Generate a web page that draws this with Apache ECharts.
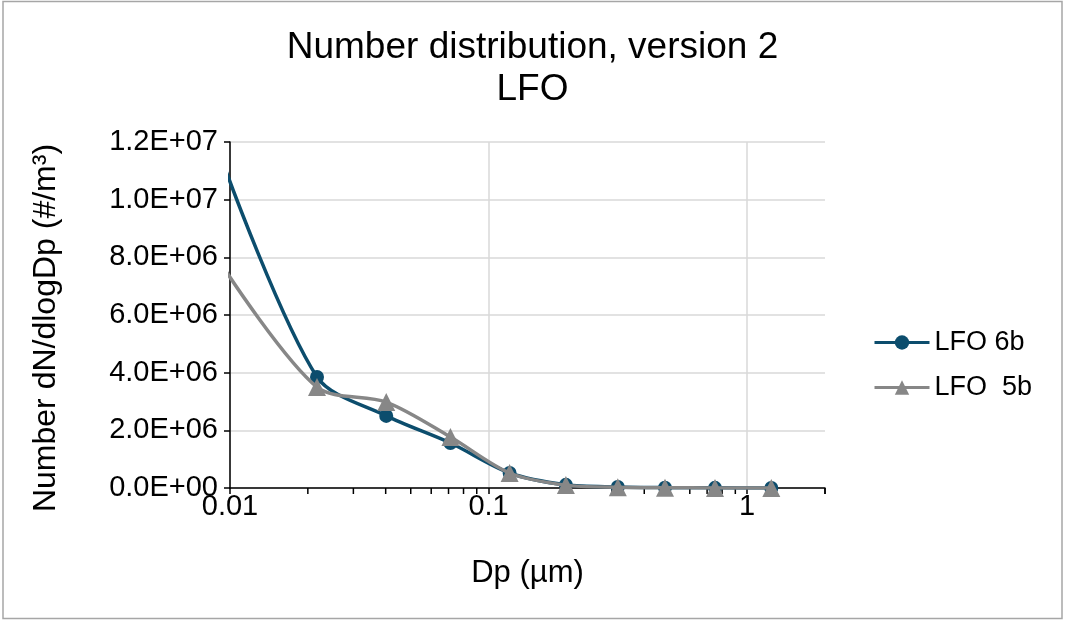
<!DOCTYPE html>
<html>
<head>
<meta charset="utf-8">
<script src="https://cdn.jsdelivr.net/npm/echarts@6/dist/echarts.min.js"></script>
<style>
  html, body { margin: 0; padding: 0; background: #fff; }
  #chart { width: 1065px; height: 621px; }
</style>
</head>
<body>
<div id="chart"></div>
<script>
// ---- data ----
const titleLines = ['Number distribution, version 2', 'LFO'];
const xAxisName = 'Dp (µm)';
const yAxisName = 'Number dN/dlogDp (#/m³)';
const dp = [0.0096, 0.0217, 0.0402, 0.0712, 0.1206, 0.199, 0.316, 0.481, 0.751, 1.24];
const lfo6b = [11050000, 3850000, 2500000, 1560000, 520000, 110000, 35000, 12000, 5000, 2000];
const lfo5b = [7550000, 3500000, 2980000, 1770000, 520000, 100000, 30000, 10000, 4000, 1500];
const seriesNames = ['LFO 6b', 'LFO  5b'];
const minorTickValues = [0.02,0.03,0.04,0.05,0.06,0.07,0.08,0.09,0.2,0.3,0.4,0.5,0.6,0.7,0.8,0.9,2];

const FONT = '"Liberation Sans", Arial, sans-serif';
const C6 = '#0c4d6d';
const C5 = '#878787';

function fmtExp(v) {
  const parts = Number(v).toExponential(1).split('e');
  let e = parseInt(parts[1], 10);
  const sign = e < 0 ? '-' : '+';
  e = Math.abs(e);
  return parts[0] + 'E' + sign + (e < 10 ? '0' + e : String(e));
}

const chart = echarts.init(document.getElementById('chart'), null, { renderer: 'canvas' });
const option = {
  animation: false,
  backgroundColor: '#fff',
  textStyle: { fontFamily: FONT },
  graphic: [{
    type: 'rect', silent: true, z: -10,
    shape: { x: 3, y: 1.5, width: 1059, height: 617 },
    style: { fill: 'none', stroke: '#a6a6a6', lineWidth: 1.5 }
  }],
  title: {
    text: titleLines.join('\n'),
    left: 'center', top: 22,
    textStyle: { fontFamily: FONT, fontSize: 37, fontWeight: 'normal', color: '#000', lineHeight: 42 }
  },
  legend: {
    orient: 'vertical', left: 873, top: 329, padding: 0,
    itemWidth: 55, itemHeight: 18, itemGap: 18,
    textStyle: { fontFamily: FONT, fontSize: 27, color: '#000' },
    lineStyle: { width: 3 },
    data: seriesNames
  },
  grid: { left: 230, right: 240, top: 142, bottom: 133, containLabel: false },
  xAxis: {
    type: 'log', logBase: 10, min: 0.01, max: 2,
    name: xAxisName, nameLocation: 'middle', nameGap: 70,
    nameTextStyle: { fontFamily: FONT, fontSize: 31, color: '#000' },
    axisLine: { show: true, onZero: false, lineStyle: { color: '#000', width: 1.5 } },
    axisTick: { show: true, inside: false, length: 6, lineStyle: { color: '#000', width: 1.5 } },
    axisLabel: {
      fontFamily: FONT, fontSize: 29, color: '#000', margin: 4,
      formatter: function (v) {
        const l = Math.log10(v);
        if (Math.abs(l - Math.round(l)) < 1e-6) return String(+Number(v).toPrecision(6));
        return '';
      }
    },
    splitLine: { show: true, showMaxLine: false, lineStyle: { color: '#d9d9d9', width: 1.5 } }
  },
  yAxis: {
    type: 'value', min: 0, max: 12000000, interval: 2000000,
    name: yAxisName, nameLocation: 'middle', nameGap: 168, nameRotate: 90,
    nameTextStyle: { fontFamily: FONT, fontSize: 32, color: '#000', padding: [0, 26, 0, 0] },
    axisLine: { show: true, lineStyle: { color: '#000', width: 1.5 } },
    axisTick: { show: true, inside: false, length: 6, lineStyle: { color: '#000', width: 1.5 } },
    axisLabel: { fontFamily: FONT, fontSize: 29, color: '#000', margin: 12, formatter: fmtExp },
    splitLine: { show: true, lineStyle: { color: '#d9d9d9', width: 1.5 } }
  },
  series: [
    {
      name: seriesNames[0], type: 'line', smooth: 0.3, clip: true,
      data: dp.map((x, i) => [x, lfo6b[i]]),
      symbol: 'circle', symbolSize: 14,
      lineStyle: { color: C6, width: 3.5 }, itemStyle: { color: C6 }, z: 3
    },
    {
      name: seriesNames[1], type: 'line', smooth: 0.3, clip: true,
      data: dp.map((x, i) => [x, lfo5b[i]]),
      symbol: 'triangle', symbolSize: 18,
      lineStyle: { color: C5, width: 3.5 }, itemStyle: { color: C5 }, z: 4
    },
    {
      type: 'custom', silent: true, clip: false, legendHoverLink: false,
      data: minorTickValues.map(v => [v, 0]),
      renderItem: function (params, api) {
        const p = api.coord([api.value(0), 0]);
        return {
          type: 'line',
          shape: { x1: p[0], y1: p[1], x2: p[0], y2: p[1] + 6 },
          style: { stroke: '#000', lineWidth: 1.5 }
        };
      },
      z: 1
    }
  ]
};
chart.setOption(option);
</script>
</body>
</html>
